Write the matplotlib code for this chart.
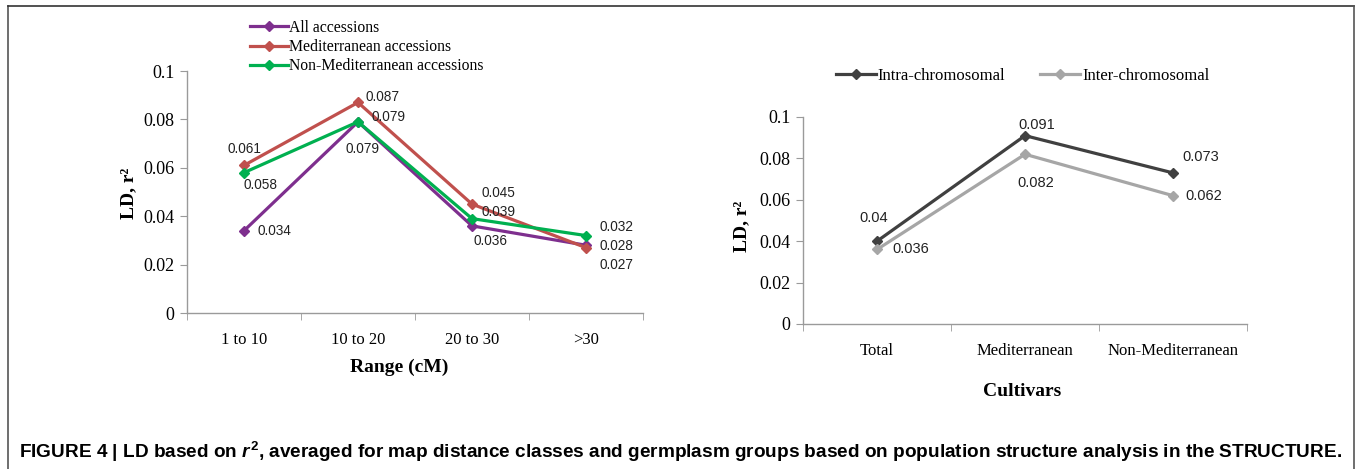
import matplotlib
matplotlib.use("Agg")
import matplotlib.pyplot as plt
from matplotlib.lines import Line2D

# ---------------- data ----------------
ranges = ["1 to 10", "10 to 20", "20 to 30", ">30"]
all_acc = [0.034, 0.079, 0.036, 0.028]
med_acc = [0.061, 0.087, 0.045, 0.027]
nonmed_acc = [0.058, 0.079, 0.039, 0.032]

cultivars = ["Total", "Mediterranean", "Non-Mediterranean"]
intra = [0.040, 0.091, 0.073]
inter = [0.036, 0.082, 0.062]

yticks = [0, 0.02, 0.04, 0.06, 0.08, 0.1]
ytick_labels = ["0", "0.02", "0.04", "0.06", "0.08", "0.1"]

plt.rcParams["mathtext.fontset"] = "custom"
plt.rcParams["mathtext.it"] = "Liberation Sans:italic:bold"
plt.rcParams["mathtext.rm"] = "Liberation Sans:bold"

W, H = 1357, 469
fig = plt.figure(figsize=(W / 100, H / 100), dpi=100)

SERIF = "Liberation Serif"
SANS = "Liberation Sans"
SPINE = "#9a9a9a"


def px_axes(x0, y0, x1, y1):
    return fig.add_axes([x0 / W, 1 - y1 / H, (x1 - x0) / W, (y1 - y0) / H])


def style_axes(ax, n, labels, xfs):
    ax.set_xlim(-0.5, n - 0.5)
    ax.set_ylim(0, 0.1)
    for s in ("top", "right"):
        ax.spines[s].set_visible(False)
    for s in ("left", "bottom"):
        ax.spines[s].set_color(SPINE)
        ax.spines[s].set_linewidth(1.0)
    ax.set_yticks(yticks)
    ax.set_yticklabels(ytick_labels, fontfamily=SERIF, fontsize=13)
    ax.tick_params(axis="y", length=5, color=SPINE, pad=4)
    ax.set_xticks(range(n))
    ax.set_xticklabels(labels, fontfamily=SERIF, fontsize=xfs)
    ax.tick_params(axis="x", which="major", length=0, pad=14)
    ax.set_xticks([i - 0.5 for i in range(n + 1)], minor=True)
    ax.tick_params(axis="x", which="minor", length=5, color=SPINE)
    ax.patch.set_alpha(0)


def label(ax, x, y, txt, dx, dy, fs):
    ax.annotate(txt, (x, y), xytext=(dx, -dy), textcoords="offset pixels",
                ha="center", va="center", fontfamily=SANS, fontsize=fs,
                color="#222222")


# ---------------- left chart ----------------
ax1 = px_axes(187, 71, 643, 313)
style_axes(ax1, 4, ranges, 12)
x = range(len(ranges))
c_all, c_med, c_non = "#7E2F8E", "#C0504D", "#00B050"
mk = dict(marker="D", markersize=5.5, linewidth=2.3)
ax1.plot(x, all_acc, color=c_all, label="All accessions", **mk)
ax1.plot(x, med_acc, color=c_med, label="Mediterranean accessions", **mk)
ax1.plot(x, nonmed_acc, color=c_non, label="Non-Mediterranean accessions", **mk)

fs1 = 9.8
offs_all = [(30, 0), (4, 27), (18, 15), (30, 1)]
offs_med = [(0, -16), (25, -5), (26, -11), (30, 17)]
offs_non = [(17, 12), (30, -5), (26, -7), (30, -9)]
for i in x:
    label(ax1, i, all_acc[i], f"{all_acc[i]:g}", *offs_all[i], fs1)
    label(ax1, i, med_acc[i], f"{med_acc[i]:g}", *offs_med[i], fs1)
    label(ax1, i, nonmed_acc[i], f"{nonmed_acc[i]:g}", *offs_non[i], fs1)

leg1 = ax1.legend(loc="center left", bbox_to_anchor=(250 / W, 1 - 47 / H),
                  bbox_transform=fig.transFigure, frameon=False,
                  prop={"family": SERIF, "size": 11.3},
                  handlelength=2.4, handletextpad=0.1, labelspacing=0.22,
                  borderpad=0, borderaxespad=0)

fig.text(399 / W, 1 - 367 / H, "Range (cM)", ha="center", va="center",
         fontfamily=SERIF, fontweight="bold", fontsize=14)
fig.text(129 / W, 1 - 193 / H, "LD, r²", ha="center", va="center",
         rotation=90, fontfamily=SERIF, fontweight="bold", fontsize=14)

# ---------------- right chart ----------------
ax2 = px_axes(803, 117, 1247, 324)
style_axes(ax2, 3, cultivars, 12)
x2 = range(len(cultivars))
c_intra, c_inter = "#404040", "#A6A6A6"
ax2.plot(x2, intra, color=c_intra, label="Intra-chromosomal", **mk)
ax2.plot(x2, inter, color=c_inter, label="Inter-chromosomal", **mk)

fs2 = 10.5
offs_intra = [(-3, -23), (12, -11), (28, -16)]
offs_inter = [(34, 0), (11, 29), (31, 0)]
for i in x2:
    label(ax2, i, intra[i], f"{intra[i]:g}", *offs_intra[i], fs2)
    label(ax2, i, inter[i], f"{inter[i]:g}", *offs_inter[i], fs2)

leg2 = ax2.legend(loc="center left", bbox_to_anchor=(836 / W, 1 - 76 / H),
                  bbox_transform=fig.transFigure, frameon=False, ncol=2,
                  prop={"family": SERIF, "size": 12},
                  handlelength=2.4, handletextpad=0.1, columnspacing=2.1,
                  borderpad=0, borderaxespad=0)

fig.text(1022 / W, 1 - 392 / H, "Cultivars", ha="center", va="center",
         fontfamily=SERIF, fontweight="bold", fontsize=14)
fig.text(742 / W, 1 - 226 / H, "LD, r²", ha="center", va="center",
         rotation=90, fontfamily=SERIF, fontweight="bold", fontsize=14)

# ---------------- caption & border ----------------
cap = fig.text(19 / W, 1 - 452 / H,
               r"FIGURE 4 | LD based on $r^{2}$, averaged for map distance classes and "
               r"germplasm groups based on population structure analysis in the STRUCTURE.",
               ha="left", va="center", fontfamily=SANS, fontweight="bold",
               fontsize=12)
fig.canvas.draw()
bb = cap.get_window_extent()
cap.set_fontsize(12 * (1321 / bb.width))

fig.add_artist(Line2D([7.5 / W, 7.5 / W], [0, 1 - 6.5 / H], color="#555555",
                      linewidth=1.2, transform=fig.transFigure))
fig.add_artist(Line2D([7.5 / W, 1354 / W], [1 - 6.5 / H, 1 - 6.5 / H],
                      color="#333333", linewidth=1.2, transform=fig.transFigure))
fig.add_artist(Line2D([1354 / W, 1354 / W], [0, 1 - 6.5 / H], color="#555555",
                      linewidth=1.2, transform=fig.transFigure))

fig.savefig("out.png", dpi=100)
